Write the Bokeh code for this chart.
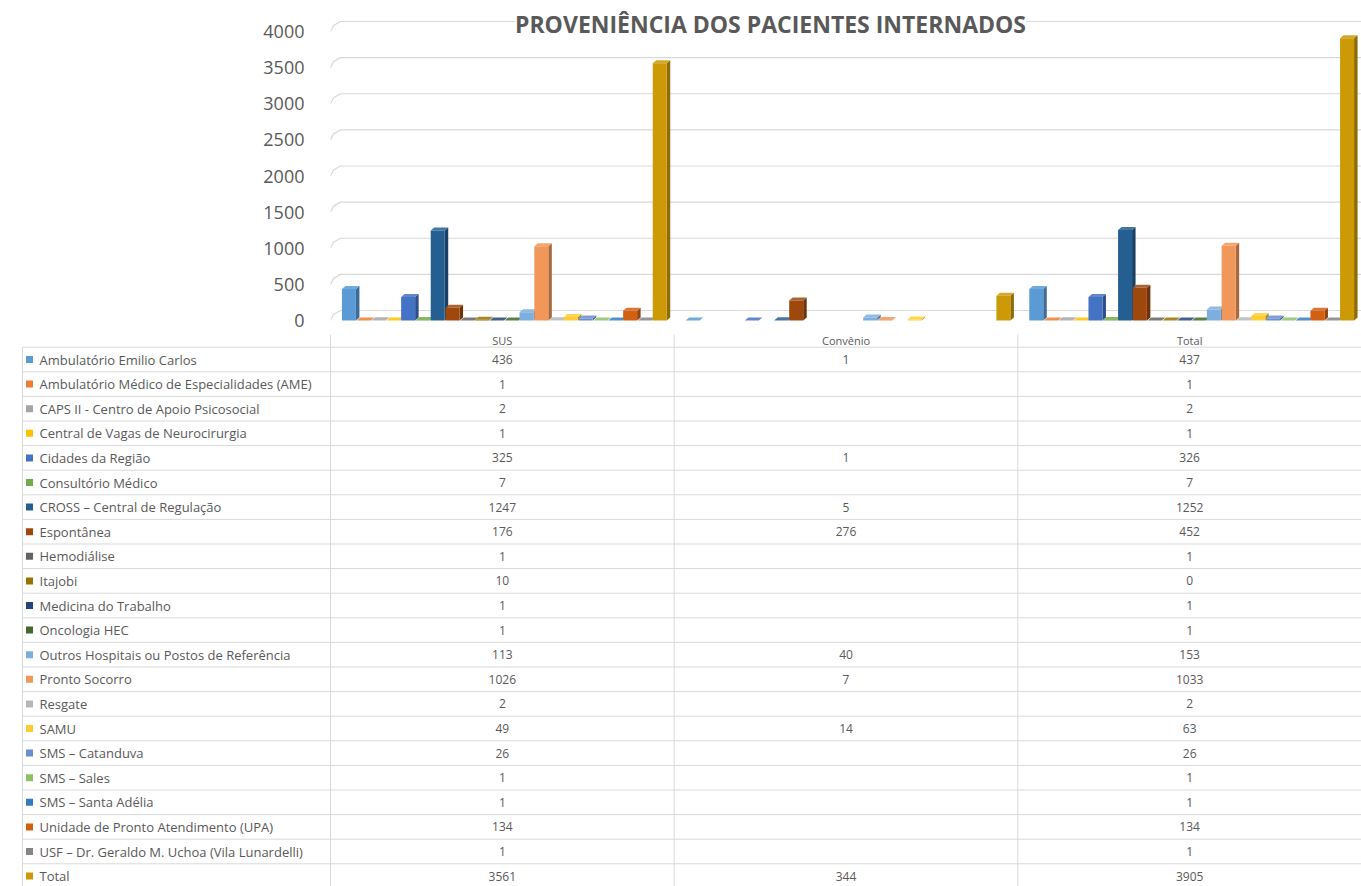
import numpy as np
from bokeh.plotting import figure
from bokeh.models import Range1d, FixedTicker, Label
from bokeh.embed import file_html
from bokeh.resources import INLINE
from bokeh.core.properties import value

# ---------------- data ----------------
title_text = "PROVENIÊNCIA DOS PACIENTES INTERNADOS"
groups = ["SUS", "Convênio", "Total"]
series = [
    "Ambulatório Emilio Carlos",
    "Ambulatório Médico de Especialidades (AME)",
    "CAPS II - Centro de Apoio Psicosocial",
    "Central de Vagas de Neurocirurgia",
    "Cidades da Região",
    "Consultório Médico",
    "CROSS – Central de Regulação",
    "Espontânea",
    "Hemodiálise",
    "Itajobi",
    "Medicina do Trabalho",
    "Oncologia HEC",
    "Outros Hospitais ou Postos de Referência",
    "Pronto Socorro",
    "Resgate",
    "SAMU",
    "SMS – Catanduva",
    "SMS – Sales",
    "SMS – Santa Adélia",
    "Unidade de Pronto Atendimento (UPA)",
    "USF – Dr. Geraldo M. Uchoa (Vila Lunardelli)",
    "Total",
]
colors = [
    "#5B9BD5", "#ED7D31", "#A5A5A5", "#FFC000", "#4472C4", "#70AD47",
    "#255E91", "#9E480E", "#636363", "#997300", "#264478", "#43682B",
    "#7CAFDD", "#F1975A", "#B7B7B7", "#FFCD33", "#698ED0", "#8CC168",
    "#327DC2", "#D26012", "#848484", "#CC9A06",
]
sus = [436, 1, 2, 1, 325, 7, 1247, 176, 1, 10, 1, 1, 113, 1026, 2, 49, 26, 1, 1, 134, 1, 3561]
convenio = [1, None, None, None, 1, None, 5, 276, None, None, None, None, 40, 7, None, 14,
            None, None, None, None, None, 344]
total = [437, 1, 2, 1, 326, 7, 1252, 452, 1, 0, 1, 1, 153, 1033, 2, 63, 26, 1, 1, 134, 1, 3905]
y_ticks = [0, 500, 1000, 1500, 2000, 2500, 3000, 3500, 4000]

# ---------------- layout constants ----------------
W = 1361
LEFT = 330
CH = 334
TH = 552
GW = (W - LEFT) / 3.0          # px per group
FONT = "Open Sans"
TEXT = "#595959"
LINE = "#D9D9D9"
PXY = 289.0 / 4000.0           # px per value unit
SP = 14.8                      # bar spacing px
FW = 14.0                      # front width px
DX = 3.5                       # depth px
DY = 3.0
SHIFT = 2.0
BACK = 10.0                    # back-wall offset of gridlines, px


def shade(hex_color, f):
    h = hex_color.lstrip("#")
    r, g, b = (int(h[i:i + 2], 16) for i in (0, 2, 4))
    if f < 1:
        r, g, b = (int(c * f) for c in (r, g, b))
    else:
        t = f - 1
        r, g, b = (int(c + (255 - c) * t) for c in (r, g, b))
    return "#%02x%02x%02x" % (r, g, b)


# ---------------- chart ----------------
p = figure(width=W, height=CH,
           x_range=Range1d(0, 3), y_range=Range1d(-2 / PXY, 310 / PXY),
           output_backend="svg", toolbar_location=None, x_axis_location=None,
           min_border_left=LEFT, min_border_right=0, min_border_top=10, min_border_bottom=12)
p.outline_line_color = None
p.xgrid.visible = False
p.ygrid.visible = False
p.yaxis.ticker = FixedTicker(ticks=y_ticks)
p.yaxis.axis_line_color = None
p.yaxis.major_tick_line_color = None
p.yaxis.minor_tick_line_color = None
p.yaxis.major_label_text_font = FONT
p.yaxis.major_label_text_font_size = "18px"
p.yaxis.major_label_text_color = TEXT
p.yaxis.major_label_standoff = 20

# 3D back-wall gridlines
off = BACK / PXY
gxs = [[0, 3 / GW, 10 / GW, 3] for _ in y_ticks]
gys = [[v, v + off * 0.6, v + off, v + off] for v in y_ticks]
p.multi_line(xs=gxs, ys=gys, line_color=LINE, line_width=1.2)

xs, ys, fills = [], [], []
dx = DX / GW
dy = DY / PXY
for gi, vals in enumerate([sus, convenio, total]):
    for j, v in enumerate(vals):
        if v is None:
            continue
        xc = gi + 0.5 + ((j - 10.5) * SP + SHIFT) / GW
        xl = xc - FW / 2 / GW
        xr = xc + FW / 2 / GW
        col = colors[j]
        xs.append([xr, xr + dx, xr + dx, xr]); ys.append([0, dy, v + dy, v]); fills.append(shade(col, 0.7))
        xs.append([xl, xr, xr + dx, xl + dx]); ys.append([v, v, v + dy, v + dy]); fills.append(shade(col, 1.15))
        xs.append([xl, xr, xr, xl]); ys.append([0, 0, v, v]); fills.append(col)

p.patches(xs=xs, ys=ys, fill_color=fills, line_color=None)

title = Label(x=(770 - LEFT) / GW, y=297 / PXY, text=title_text,
              text_font=FONT, text_font_size="23px", text_font_style="bold",
              text_color=TEXT, text_align="center", text_baseline="middle",
              background_fill_color="white")
p.add_layout(title)

# ---------------- data table ----------------
t = figure(width=W, height=TH, x_range=Range1d(0, W), y_range=Range1d(TH, 0),
           output_backend="svg", toolbar_location=None,
           x_axis_location=None, y_axis_location=None, min_border=0)
t.grid.visible = False
t.outline_line_color = None

HEADER_Y = 6
ROW0 = 25
RH = 24.6
TABLE_L = 22
n = len(series)
row_y = [ROW0 + k * RH for k in range(n)]

# horizontal lines
hy = [ROW0 - RH / 2 + k * RH for k in range(n + 1)]
t.segment(x0=[TABLE_L] * len(hy), x1=[W] * len(hy), y0=hy, y1=hy, line_color=LINE, line_width=1)
# vertical lines
vx = [LEFT + k * GW for k in range(3)]
t.segment(x0=vx, x1=vx, y0=[0] * 3, y1=[TH] * 3, line_color=LINE, line_width=1)
t.segment(x0=[TABLE_L], x1=[TABLE_L], y0=[hy[0]], y1=[TH], line_color=LINE, line_width=1)

col_cx = [LEFT + (k + 0.5) * GW for k in range(3)]
t.text(x=col_cx, y=[HEADER_Y] * 3, text=groups, text_font=value(FONT), text_font_size="11px",
       text_color=TEXT, text_align="center", text_baseline="middle")

t.scatter(x=[29] * n, y=row_y, marker="square", size=7, fill_color=colors, line_color=None)
t.text(x=[39] * n, y=row_y, text=series, text_font=value(FONT), text_font_size="13px",
       text_color=TEXT, text_align="left", text_baseline="middle")

for k, vals in enumerate([sus, convenio, total]):
    strs = ["" if v is None else str(v) for v in vals]
    t.text(x=[col_cx[k]] * n, y=row_y, text=strs, text_font=value(FONT), text_font_size="12px",
           text_color=TEXT, text_align="center", text_baseline="middle")

open("out.html", "w").write(file_html([p, t], INLINE))
